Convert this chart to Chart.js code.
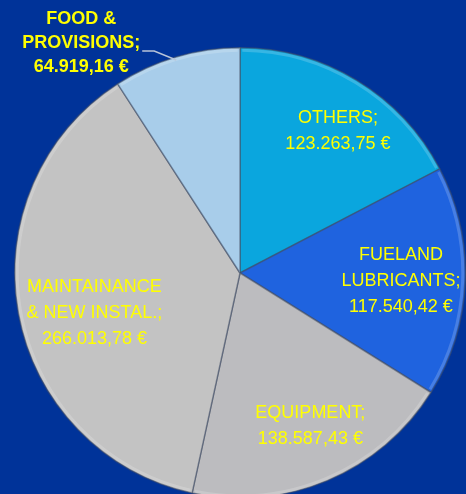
<!DOCTYPE html>
<html>
<head>
<meta charset="utf-8">
<script src="https://cdn.jsdelivr.net/npm/chart.js@4/dist/chart.umd.min.js"></script>
<style>
  html, body { margin: 0; padding: 0; background: #003399; overflow: hidden; }
  .chart-box { position: relative; width: 466px; height: 500px; }
</style>
</head>
<body>
<div class="chart-box">
  <canvas id="costChart"></canvas>
</div>
<script>
// DATA
const categories = ['OTHERS', 'FUELAND LUBRICANTS', 'EQUIPMENT', 'MAINTAINANCE & NEW INSTAL.', 'FOOD & PROVISIONS'];
const labelLines = [
  ['OTHERS;', '123.263,75 €'],
  ['FUELAND', 'LUBRICANTS;', '117.540,42 €'],
  ['EQUIPMENT;', '138.587,43 €'],
  ['MAINTAINANCE', '& NEW INSTAL.;', '266.013,78 €'],
  ['FOOD &', 'PROVISIONS;', '64.919,16 €']
];
const costs = [123263.75, 117540.42, 138587.43, 266013.78, 64919.16];
const sliceColors = ['#0aa6de', '#1f63df', '#bcbcbf', '#c3c3c3', '#a8cdea'];

// label placement (style only): radius fraction + angle nudge + pixel nudge
const labelPlace = [
  { r: 0.79, da: 1, dx: 3, dy: 9 },
  { r: 0.71, da: -2, dx: 1, dy: 7 },
  { r: 0.74, da: -1, dx: 3, dy: 1 },
  { r: 0.67, da: -5, dx: 0, dy: 0 },
  { outside: true }
];

// LABEL PLUGIN (also paints a light rim on the pie edge)
const sliceLabels = {
  id: 'sliceLabels',
  afterDatasetsDraw(chart) {
    const ctx = chart.ctx;
    const meta = chart.getDatasetMeta(0);
    ctx.save();

    meta.data.forEach(function (arc) {
      const p = arc.getProps(['x', 'y', 'startAngle', 'endAngle', 'outerRadius']);
      ctx.strokeStyle = 'rgba(255,255,255,0.18)';
      ctx.lineWidth = 3;
      ctx.beginPath();
      ctx.arc(p.x, p.y, p.outerRadius - 2.5, p.startAngle + 0.01, p.endAngle - 0.01);
      ctx.stroke();
    });

    ctx.fillStyle = '#ffff00';
    ctx.textAlign = 'center';
    ctx.textBaseline = 'middle';
    meta.data.forEach(function (arc, i) {
      const p = arc.getProps(['x', 'y', 'startAngle', 'endAngle', 'outerRadius']);
      const place = labelPlace[i];
      const lines = labelLines[i];
      let mid = (p.startAngle + p.endAngle) / 2;
      if (place.outside) {
        // leader line from the slice edge up and to the left
        const ex = p.x + Math.cos(mid) * p.outerRadius;
        const ey = p.y + Math.sin(mid) * p.outerRadius;
        ctx.strokeStyle = '#b8c4d8';
        ctx.lineWidth = 1.5;
        ctx.beginPath();
        ctx.moveTo(ex, ey + 3);
        ctx.lineTo(ex - 22, ey - 6);
        ctx.lineTo(ex - 34, ey - 6);
        ctx.stroke();
        ctx.font = 'bold 18px "Liberation Sans", Arial, sans-serif';
        const cx = ex - 95;
        const cy = ey - 14;
        lines.forEach(function (t, k) {
          ctx.fillText(t, cx, cy + (k - 1) * 24);
        });
        return;
      }
      mid += place.da * Math.PI / 180;
      const cx = p.x + Math.cos(mid) * p.outerRadius * place.r + place.dx;
      const cy = p.y + Math.sin(mid) * p.outerRadius * place.r + place.dy;
      ctx.font = '18px "Liberation Sans", Arial, sans-serif';
      const n = lines.length;
      lines.forEach(function (t, k) {
        ctx.fillText(t, cx, cy + (k - (n - 1) / 2) * 26);
      });
    });
    ctx.restore();
  }
};

// PIE CHART
const ctx = document.getElementById('costChart').getContext('2d');
const costChart = new Chart(ctx, {
  type: 'pie',
  data: {
    labels: categories,
    datasets: [{
      data: costs,
      backgroundColor: sliceColors,
      borderColor: 'rgba(70,80,100,0.55)',
      borderWidth: 1.5
    }]
  },
  options: {
    responsive: true,
    maintainAspectRatio: false,
    animation: false,
    layout: {
      padding: { left: 14, right: 0, top: 47, bottom: 1 }
    },
    plugins: {
      legend: { display: false },
      tooltip: { enabled: false }
    }
  },
  plugins: [sliceLabels]
});
</script>
</body>
</html>
